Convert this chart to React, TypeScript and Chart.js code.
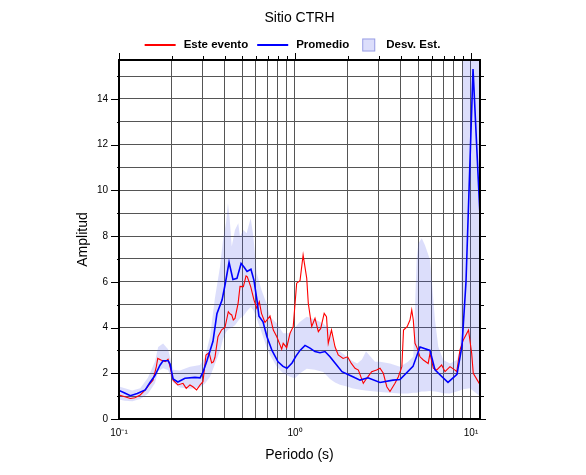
import React, { useEffect, useRef } from 'react';
import { Chart, registerables } from 'chart.js';

Chart.register(...registerables);

const TITLE = 'Sitio CTRH';
const X_LABEL = 'Periodo (s)';
const Y_LABEL = 'Amplitud';
const LEGEND_EVENTO = 'Este evento';
const LEGEND_PROMEDIO = 'Promedio';
const LEGEND_DESV = 'Desv. Est.';

const X_MIN = 0.1;
const X_MAX = 11.25;
const Y_MIN = 0;
const Y_MAX = 15.7;

const xTickValues = [0.1, 0.2, 0.3, 0.4, 0.5, 0.6, 0.7, 0.8, 0.9, 1, 2, 3, 4, 5, 6, 7, 8, 9, 10];
const xMajorValues = [0.1, 1, 10];
const xMajorLabels = ['10\u207B\u00B9', '10\u2070', '10\u00B9'];
const yTickValues = [0, 1, 2, 3, 4, 5, 6, 7, 8, 9, 10, 11, 12, 13, 14, 15];

const promedioPeriods = [
  0.1, 0.107, 0.116, 0.127, 0.141, 0.15, 0.16, 0.171, 0.178, 0.19, 0.195, 0.203, 0.216, 0.237, 0.27, 0.289,
  0.3, 0.316, 0.342, 0.36, 0.385, 0.4, 0.422, 0.444, 0.468, 0.494, 0.513, 0.534, 0.562, 0.585, 0.608, 0.624,
  0.658, 0.693, 0.74, 0.801, 0.855, 0.9, 0.962, 1.013, 1.068, 1.14, 1.217, 1.299, 1.387, 1.481, 1.581, 1.688,
  1.849, 2.0, 2.193, 2.341, 2.598, 3.041, 3.604, 3.95, 4.682, 5.132, 5.848, 6.244, 6.842, 7.402, 8.326, 8.888,
  9.367, 10.27, 11.25,
];
const promedioValues = [
  1.25, 1.15, 1.02, 1.12, 1.27, 1.6, 1.9, 2.35, 2.55, 2.55, 2.4, 1.75, 1.62, 1.78, 1.82, 1.8,
  2.05, 2.55, 3.4, 4.6, 5.2, 5.85, 6.85, 6.1, 6.15, 6.8, 6.65, 6.45, 6.55, 6.05, 5.2, 4.5,
  4.25, 3.6, 3.0, 2.5, 2.3, 2.22, 2.45, 2.75, 3.0, 3.22, 3.1, 2.95, 2.9, 2.95, 2.72, 2.45,
  2.07, 1.95, 1.8, 1.7, 1.8, 1.6, 1.7, 1.73, 2.3, 3.15, 3.0, 2.15, 1.85, 1.6, 1.95, 3.2,
  6.0, 15.3, 8.9,
];

const eventoPeriods = [
  0.1, 0.108, 0.116, 0.123, 0.132, 0.141, 0.148, 0.156, 0.163, 0.166, 0.173, 0.183, 0.19, 0.195, 0.203, 0.216,
  0.231, 0.241, 0.253, 0.263, 0.276, 0.289, 0.3, 0.312, 0.325, 0.336, 0.344, 0.351, 0.365, 0.383, 0.4, 0.418,
  0.427, 0.437, 0.446, 0.456, 0.475, 0.487, 0.509, 0.527, 0.536, 0.56, 0.585, 0.606, 0.627, 0.645, 0.675, 0.721,
  0.753, 0.788, 0.822, 0.84, 0.857, 0.897, 0.937, 0.977, 1.022, 1.068, 1.112, 1.166, 1.19, 1.244, 1.299, 1.357,
  1.4, 1.465, 1.51, 1.545, 1.612, 1.688, 1.76, 1.876, 1.991, 2.09, 2.193, 2.292, 2.444, 2.556, 2.727, 2.908,
  3.041, 3.176, 3.324, 3.465, 3.7, 3.867, 4.048, 4.136, 4.336, 4.502, 4.606, 4.7, 4.806, 4.953, 5.132, 5.36,
  5.712, 5.848, 6.11, 6.38, 6.81, 7.117, 7.598, 8.111, 8.3, 8.659, 9.045, 9.68, 10.09, 10.3, 11.25,
];
const eventoValues = [
  1.05, 0.97, 0.9, 0.93, 1.05, 1.27, 1.49, 1.7, 2.29, 2.65, 2.58, 2.51, 2.61, 2.29, 1.7, 1.49,
  1.56, 1.34, 1.49, 1.41, 1.27, 1.49, 1.63, 2.8, 2.9, 2.45, 2.5, 2.7, 3.6, 3.9, 4.0, 4.69,
  4.6, 4.55, 4.33, 4.4, 5.06, 5.8, 5.79, 6.26, 6.22, 5.79, 5.2, 4.85, 5.13, 4.62, 4.22, 4.5,
  3.89, 3.6, 3.24, 3.05, 3.31, 3.12, 3.75, 4.04, 5.94, 6.05, 7.17, 6.15, 5.06, 4.04, 4.4, 3.82,
  3.96, 4.62, 4.47, 3.31, 3.89, 3.16, 2.8, 2.65, 2.72, 2.43, 2.22, 2.14, 1.56, 1.78, 2.07, 2.14,
  2.22, 2.0, 1.41, 1.2, 1.56, 1.85, 2.29, 3.89, 4.04, 4.33, 4.77, 4.33, 3.31, 3.09, 2.72, 2.58,
  2.43, 2.87, 2.22, 2.14, 2.36, 2.07, 2.29, 2.14, 2.07, 3.02, 3.46, 3.89, 2.87, 2.0, 1.5,
];

const desvPeriods = [
  0.1, 0.108, 0.119, 0.132, 0.146, 0.16, 0.167, 0.178, 0.19, 0.203, 0.222, 0.253, 0.289, 0.308, 0.329, 0.351,
  0.375, 0.39, 0.406, 0.416, 0.425, 0.437, 0.456, 0.476, 0.487, 0.509, 0.531, 0.56, 0.58, 0.606, 0.645, 0.688,
  0.721, 0.788, 0.857, 0.937, 1.0, 1.068, 1.166, 1.299, 1.447, 1.581, 1.688, 1.802, 1.972, 2.108, 2.255, 2.401,
  2.532, 2.667, 2.848, 3.041, 3.465, 3.95, 4.385, 4.7, 4.913, 5.023, 5.25, 5.479, 5.848, 6.244, 6.52, 6.96,
  7.598, 8.3, 8.659, 8.85, 9.005, 9.87, 11.25,
];
const desvUpper = [
  1.42, 1.35, 1.25, 1.35, 1.8, 2.5, 3.15, 3.3, 3.05, 2.15, 2.12, 2.28, 2.36, 2.7, 3.6, 5.3,
  6.66, 7.83, 8.6, 9.43, 8.8, 7.54, 8.27, 8.56, 7.98, 8.27, 8.12, 8.78, 7.98, 6.37, 5.64, 5.06,
  4.47, 4.18, 3.75, 3.75, 4.0, 4.25, 4.47, 4.35, 4.18, 3.89, 3.09, 2.95, 2.72, 2.55, 2.43, 2.6,
  2.95, 2.75, 2.5, 2.5, 2.43, 2.29, 2.5, 2.72, 7.0, 7.68, 7.9, 7.6, 6.96, 4.33, 3.16, 2.58,
  2.43, 2.58, 3.0, 8.12, 16.5, 20.0, 20.0,
];
const desvLower = [
  0.85, 0.8, 0.78, 0.88, 1.1, 1.56, 2.1, 2.22, 2.14, 1.6, 1.38, 1.32, 1.38, 1.55, 1.85, 2.4,
  3.0, 3.5, 3.8, 3.9, 3.95, 4.0, 4.1, 4.3, 4.4, 4.5, 4.7, 4.9, 4.77, 4.4, 3.8, 3.16,
  2.8, 2.29, 2.0, 1.85, 1.78, 2.0, 2.2, 2.15, 2.05, 1.75, 1.6, 1.5, 1.42, 1.35, 1.3, 1.27,
  1.25, 1.22, 1.2, 1.18, 1.15, 1.12, 1.12, 1.15, 1.15, 1.17, 1.2, 1.2, 1.22, 1.2, 1.18, 1.13,
  1.12, 1.2, 1.25, 1.28, 1.3, 1.35, 1.0,
];

const FONT = 'Helvetica, Arial, "Liberation Sans", sans-serif';
const BAND_FILL = 'rgba(70, 80, 235, 0.19)';
const BAND_EDGE = 'rgba(70, 80, 200, 0.45)';
const RED = '#ff0000';
const BLUE = '#0000ff';
const GRID = '#555555';

const toPoints = (xs: number[], ys: number[]) => xs.map((x, i) => ({ x, y: ys[i] }));

const decorPlugin = {
  id: 'decor',
  afterDraw(chart: any) {
    const { ctx, chartArea: ca, scales } = chart;
    const xs = scales.x;
    const ys = scales.y;
    ctx.save();
    ctx.strokeStyle = '#000';
    ctx.lineWidth = 1;
    for (const v of xTickValues) {
      const px = Math.round(xs.getPixelForValue(v)) + 0.5;
      const len = xMajorValues.includes(v) ? 7 : 4;
      ctx.beginPath();
      ctx.moveTo(px, ca.top);
      ctx.lineTo(px, ca.top - len);
      ctx.stroke();
    }
    for (const v of yTickValues) {
      const py = Math.round(ys.getPixelForValue(v)) + 0.5;
      const major = v % 2 === 0;
      ctx.beginPath();
      ctx.moveTo(ca.left, py);
      ctx.lineTo(ca.left - (major ? 8 : 2), py);
      ctx.moveTo(ca.right, py);
      ctx.lineTo(ca.right + (major ? 6 : 4), py);
      ctx.stroke();
    }
    ctx.lineWidth = 2;
    ctx.strokeRect(ca.left, ca.top, ca.right - ca.left, ca.bottom - ca.top);

    // title
    ctx.fillStyle = '#000';
    ctx.font = `14px ${FONT}`;
    ctx.textAlign = 'center';
    ctx.textBaseline = 'middle';
    ctx.fillText(TITLE, (ca.left + ca.right) / 2, 18.5);

    // legend
    ctx.font = `bold 11.5px ${FONT}`;
    ctx.textAlign = 'left';
    const w0 = ctx.measureText(LEGEND_EVENTO).width;
    const w1 = ctx.measureText(LEGEND_PROMEDIO).width;
    const w2 = ctx.measureText(LEGEND_DESV).width;
    const lineLen = 31;
    const total = lineLen + 8 + w0 + 9 + lineLen + 8 + w1 + 13 + 13 + 11 + w2;
    let cx = 292.5 - total / 2;
    const ly = 45;
    ctx.lineWidth = 2;
    ctx.strokeStyle = RED;
    ctx.beginPath();
    ctx.moveTo(cx, ly);
    ctx.lineTo(cx + lineLen, ly);
    ctx.stroke();
    cx += lineLen + 8;
    ctx.fillText(LEGEND_EVENTO, cx, ly);
    cx += w0 + 9;
    ctx.strokeStyle = BLUE;
    ctx.beginPath();
    ctx.moveTo(cx, ly);
    ctx.lineTo(cx + lineLen, ly);
    ctx.stroke();
    cx += lineLen + 8;
    ctx.fillText(LEGEND_PROMEDIO, cx, ly);
    cx += w1 + 13;
    ctx.fillStyle = BAND_FILL;
    ctx.fillRect(cx, ly - 6.5, 13, 13);
    ctx.lineWidth = 1;
    ctx.strokeStyle = BAND_EDGE;
    ctx.strokeRect(cx + 0.5, ly - 6, 12, 12);
    cx += 13 + 11;
    ctx.fillStyle = '#000';
    ctx.fillText(LEGEND_DESV, cx, ly);
    ctx.restore();
  },
};

export default function App() {
  const canvasRef = useRef<HTMLCanvasElement | null>(null);

  useEffect(() => {
    const canvas = canvasRef.current;
    if (!canvas) return;
    const chart = new Chart(canvas, {
      type: 'line',
      data: {
        datasets: [
          {
            label: LEGEND_PROMEDIO,
            data: toPoints(promedioPeriods, promedioValues),
            borderColor: BLUE,
            borderWidth: 1.6,
            pointRadius: 0,
            fill: false,
            tension: 0,
          },
          {
            label: LEGEND_EVENTO,
            data: toPoints(eventoPeriods, eventoValues),
            borderColor: RED,
            borderWidth: 1.1,
            pointRadius: 0,
            fill: false,
            tension: 0,
          },
          {
            label: LEGEND_DESV,
            data: toPoints(desvPeriods, desvUpper),
            borderWidth: 0,
            borderColor: 'rgba(0,0,0,0)',
            backgroundColor: BAND_FILL,
            pointRadius: 0,
            fill: '+1',
            tension: 0,
          },
          {
            label: LEGEND_DESV + ' (inf)',
            data: toPoints(desvPeriods, desvLower),
            borderWidth: 0,
            borderColor: 'rgba(0,0,0,0)',
            pointRadius: 0,
            fill: false,
            tension: 0,
          },
        ],
      },
      options: {
        animation: false,
        responsive: false,
        devicePixelRatio: 1,
        layout: { padding: { left: 60, right: 106, top: 60, bottom: 0 } },
        plugins: {
          legend: { display: false },
          title: { display: false },
          tooltip: { enabled: false },
        },
        scales: {
          x: {
            type: 'logarithmic',
            min: X_MIN,
            max: X_MAX,
            afterBuildTicks: (scale: any) => {
              scale.ticks = xTickValues.map((v) => ({ value: v, major: xMajorValues.includes(v) }));
            },
            afterFit: (scale: any) => {
              scale.height = 56;
            },
            ticks: {
              autoSkip: false,
              maxRotation: 0,
              minRotation: 0,
              padding: 8,
              color: '#000',
              font: { family: FONT, size: 10 },
              callback: (value: any) => {
                const idx = xMajorValues.indexOf(Number(value));
                return idx >= 0 ? xMajorLabels[idx] : '';
              },
            },
            grid: { color: GRID, lineWidth: 1, drawTicks: false },
            border: { display: false },
            title: {
              display: true,
              text: X_LABEL,
              color: '#000',
              font: { family: FONT, size: 14 },
              padding: { top: 0, bottom: 11.6 },
            },
          },
          y: {
            type: 'linear',
            min: Y_MIN,
            max: Y_MAX,
            afterBuildTicks: (scale: any) => {
              scale.ticks = yTickValues.map((v) => ({ value: v }));
            },
            afterFit: (scale: any) => {
              scale.width = 59;
            },
            ticks: {
              autoSkip: false,
              padding: 11,
              color: '#000',
              font: { family: FONT, size: 10 },
              callback: (value: any) => (Number(value) % 2 === 0 ? String(value) : ''),
            },
            grid: { color: GRID, lineWidth: 1, drawTicks: false },
            border: { display: false },
            title: {
              display: true,
              text: Y_LABEL,
              color: '#000',
              font: { family: FONT, size: 14 },
              padding: { top: 15, bottom: 0 },
            },
          },
        },
      },
      plugins: [decorPlugin],
    } as any);
    return () => chart.destroy();
  }, []);

  return (
    <div style={{ position: 'absolute', left: 0, top: 0, width: 586, height: 475, background: '#fff' }}>
      <canvas ref={canvasRef} width={586} height={475} style={{ display: 'block' }} />
    </div>
  );
}
